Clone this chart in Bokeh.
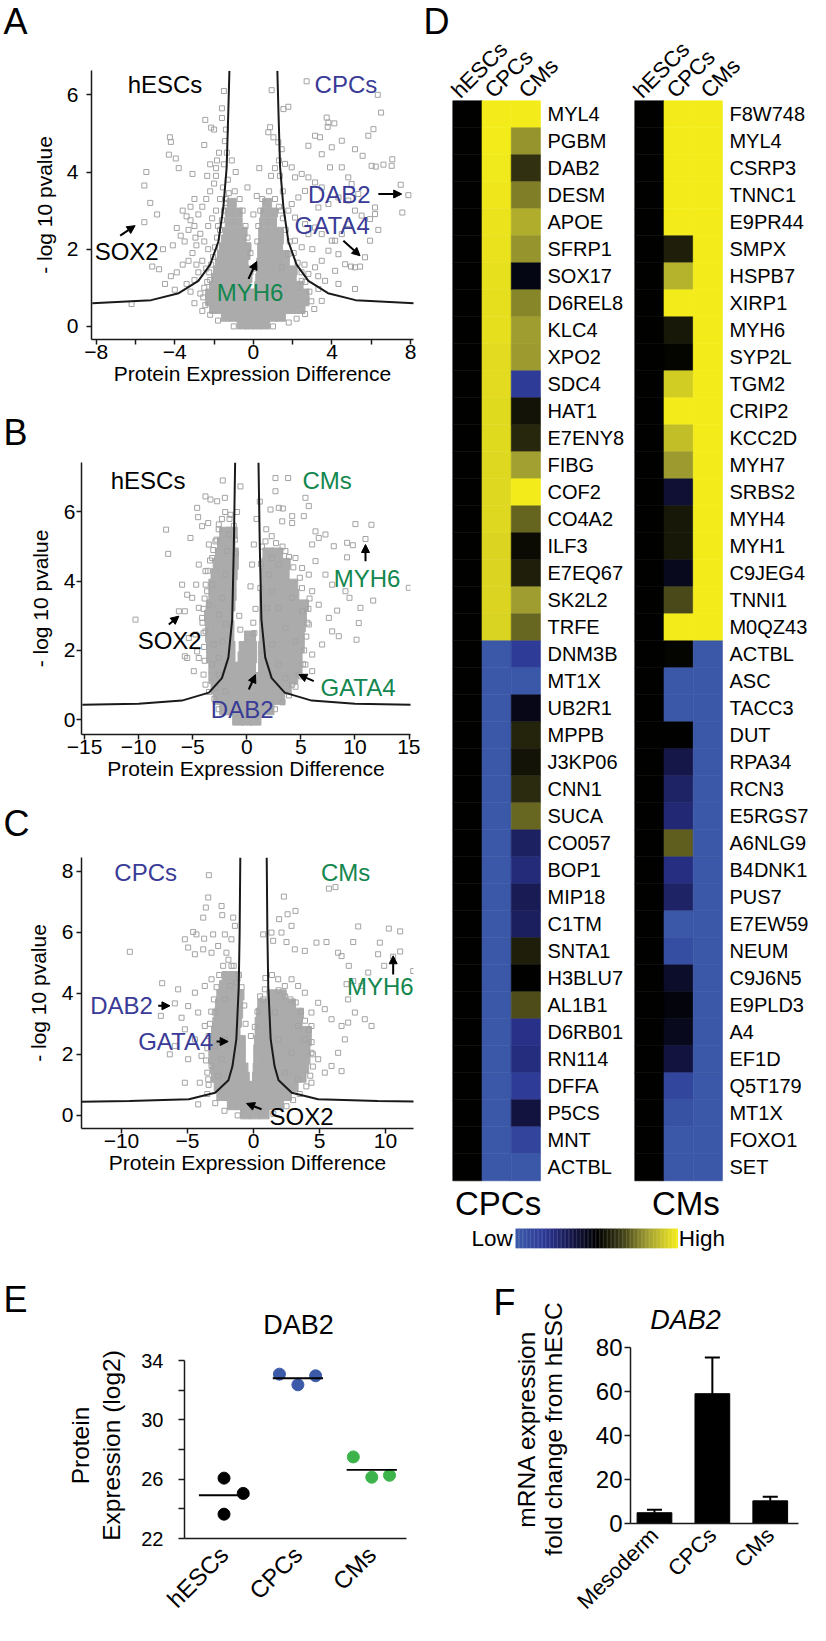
import math
from bokeh.plotting import figure
from bokeh.models import Range1d, FixedTicker, Label, Arrow, NormalHead, ColumnDataSource, LinearColorMapper
from bokeh.layouts import row, column
from bokeh.embed import file_html
from bokeh.resources import INLINE
from bokeh.core.properties import value

FONT = "Liberation Sans"
TXT = {"k": "#000000", "b": "#393b96", "g": "#13874e"}
PT_GRAY = "#a3a3a3"
CORE_GRAY = "#ababab"

# ---------------- Panel A : hESCs vs CPCs ----------------
A_points = [
    (-6.2, 0.58), (-5.45, 4.0), (-5.55, 3.65), (-5.25, 3.2), (-5.55, 2.7), (-4.9, 2.9), (-5.15, 1.55), (-4.8, 1.48),
    (-4.3, 4.45), (-4.25, 4.9), (-4.2, 4.78), (-3.95, 4.35), (-3.8, 4.1), (-3.1, 3.95), (-2.5, 4.7), (-2.45, 5.35),
    (-2.15, 5.15), (-2.0, 5.1), (-1.6, 5.4), (-1.5, 6.1), (-1.6, 5.65), (-1.75, 4.5), (-1.85, 4.3), (-1.9, 4.1),
    (-3.6, 3.0), (-3.4, 2.85), (-3.2, 2.75), (-3.9, 2.55), (-3.7, 2.35), (-3.5, 2.2), (-3.3, 2.5), (-3.0, 2.6),
    (-2.8, 2.9), (-2.6, 3.1), (-2.4, 3.3), (-2.2, 3.5), (-2.0, 3.7), (-1.9, 3.9), (-2.7, 2.4), (-2.5, 2.2),
    (-2.3, 2.0), (-2.9, 2.1), (-3.1, 1.9), (-3.3, 1.7), (-3.6, 1.6), (-3.9, 1.4), (-4.2, 1.3), (-2.6, 1.7),
    (-2.4, 1.5), (-2.8, 1.4), (-3.0, 1.2), (-3.4, 1.1), (-2.2, 1.2), (-2.5, 1.0), (-4.5, 1.1), (-4.0, 0.95),
    (-3.2, 0.9), (-2.7, 0.85), (-4.6, 2.0), (-4.1, 2.1), (-1.8, 2.6), (-1.9, 3.0), (-2.1, 2.8), (-1.7, 3.3),
    (-2.3, 2.6), (-3.0, 3.3), (-3.2, 3.1), (-2.2, 4.2), (-2.35, 3.9), (-1.45, 4.8), (-1.4, 5.1), (-1.35, 4.5),
    (-1.5, 4.2), (-1.3, 3.8), (-1.55, 3.6), (-1.4, 3.3), (-2.6, 0.4), (-3.0, 0.6),
    (2.71, 6.35), (0.93, 6.12), (1.53, 5.63), (1.78, 5.69), (0.85, 5.16), (0.76, 5.03), (1.02, 4.9), (1.27, 4.77),
    (1.44, 4.59), (3.73, 5.41), (3.82, 5.28), (4.12, 5.26), (3.78, 5.17), (3.14, 4.94), (3.39, 4.9), (2.8, 4.68),
    (3.99, 4.64), (4.5, 4.81), (5.17, 4.59), (5.56, 4.42), (6.11, 5.11), (6.5, 5.54), (6.33, 6.0), (5.85, 4.94),
    (6.02, 4.16), (6.23, 4.14), (6.62, 4.19), (7.07, 4.33), (7.04, 4.16), (7.5, 3.67), (7.89, 3.4), (7.58, 2.95),
    (6.36, 2.5), (5.94, 2.22), (5.68, 1.79), (5.43, 1.55), (5.17, 1.53), (4.97, 1.55), (6.19, 3.08), (6.19, 2.91),
    (5.94, 2.78), (5.51, 2.87), (5.17, 3.0), (4.83, 2.65), (4.5, 2.39), (4.16, 2.22), (3.82, 1.96), (3.48, 1.7),
    (3.14, 1.53), (2.8, 1.36), (2.46, 1.18), (2.12, 3.86), (2.46, 3.95), (2.8, 3.86), (3.14, 3.73), (3.48, 3.6),
    (2.63, 3.51), (2.29, 3.34), (1.95, 3.17), (1.78, 3.0), (2.12, 2.82), (2.63, 2.65), (3.14, 2.56), (3.48, 2.39),
    (3.99, 2.22), (4.33, 1.87), (4.67, 1.61), (4.16, 1.44), (3.65, 1.18), (3.31, 0.97), (4.33, 1.1), (5.17, 0.97),
    (1.78, 1.87), (2.12, 2.22), (2.46, 2.05), (2.8, 2.39), (1.44, 1.53), (1.61, 4.21), (1.95, 4.12), (3.48, 4.46),
    (3.9, 4.12), (4.5, 4.12), (4.83, 3.86), (4.33, 3.34), (3.82, 3.17), (3.31, 3.08), (4.83, 3.26), (5.34, 3.43),
    (5.0, 3.69), (1.3, 4.3), (1.35, 3.9), (1.5, 3.5), (1.4, 3.0), (0.17, 3.38), (0.3, 4.1), (-0.3, 3.6),
    (0.0, 2.9), (3.48, 0.66), (2.63, 0.32),
    (-2.45, 0.55), (-2.55, 0.75), (-2.35, 1.15), (-2.25, 1.4), (-2.15, 1.6), (-2.05, 1.8), (-1.95, 2.05),
    (-1.85, 2.3), (-1.7, 2.5), (-1.6, 2.75), (-1.5, 3.0), (-1.4, 3.2), (-1.25, 3.45), (-0.95, 3.5), (-0.7, 3.3),
    (-0.55, 3.0), (-0.4, 2.6), (-0.3, 2.3), (-0.15, 1.9), (0.1, 1.5), (0.2, 2.2), (0.25, 2.6), (0.35, 3.0),
    (0.45, 3.3), (0.8, 3.5), (1.1, 3.3), (1.3, 3.1), (1.5, 2.8), (1.65, 2.5), (1.85, 2.2), (2.05, 1.9),
    (2.25, 1.65), (2.45, 1.4), (2.65, 1.15), (2.85, 0.9), (2.95, 0.65), (3.1, 0.45), (2.2, 0.2), (1.8, 0.1),
    (-1.8, 0.15), (-2.2, 0.3), (-1.0, 0.0), (1.0, 0.0), (-0.9, 4.0), (-1.1, 4.3), (0.9, 3.9), (1.1, 4.1),
    (-2.9, 1.6), (-2.95, 2.3), (3.0, 2.0), (3.3, 1.3), (2.6, 1.6),
]
A_core = [
    (0.05, [-0.6, -0.2, 0.2, 0.6]),
    (0.25, [-1.4, -1.0, -0.6, -0.2, 0.2, 0.6, 1.0, 1.4]),
    (0.45, [-2.0, -1.6, -1.2, -0.8, -0.4, 0.0, 0.4, 0.8, 1.2, 1.6, 2.0, 2.4]),
    (0.65, [-2.2, -1.8, -1.4, -1.0, -0.6, -0.2, 0.2, 0.6, 1.0, 1.4, 1.8, 2.2, 2.6]),
    (0.85, [-2.2, -1.8, -1.4, -1.0, -0.6, -0.2, 0.2, 0.6, 1.0, 1.4, 1.8, 2.2, 2.6]),
    (1.05, [-2.0, -1.6, -1.2, -0.8, -0.4, 0.3, 0.7, 1.1, 1.5, 1.9, 2.3]),
    (1.25, [-1.9, -1.5, -1.1, -0.7, -0.3, 0.35, 0.75, 1.15, 1.55, 1.95]),
    (1.45, [-1.8, -1.4, -1.0, -0.6, -0.25, 0.4, 0.8, 1.2, 1.6, 2.0]),
    (1.65, [-1.7, -1.3, -0.9, -0.5, 0.4, 0.8, 1.2, 1.6]),
    (1.85, [-1.6, -1.2, -0.8, -0.4, 0.45, 0.85, 1.25, 1.6]),
    (2.05, [-1.5, -1.1, -0.7, -0.35, 0.45, 0.85, 1.25]),
    (2.25, [-1.4, -1.0, -0.6, 0.5, 0.9, 1.3]),
    (2.45, [-1.3, -0.9, -0.55, 0.5, 0.9, 1.3]),
    (2.7, [-1.2, -0.8, 0.55, 0.95]),
    (2.95, [-1.2, -0.8, 0.6, 1.0]),
    (3.2, [-1.1, 0.7]),
]
A_curve_x = [1.22, 1.28, 1.36, 1.53, 1.78, 2.2, 2.8, 3.8, 5.2, 8.2]
A_curve_y = [6.62, 5.5, 4.12, 3.08, 2.2, 1.6, 1.18, 0.86, 0.68, 0.6]
A_notes = [("hESCs", -4.5, 6.27, "k"), ("CPCs", 4.71, 6.27, "b"), ("DAB2", 4.37, 3.41, "b"),
           ("GATA4", 4.01, 2.61, "b"), ("SOX2", -6.45, 1.94, "k"), ("MYH6", -0.17, 0.88, "g")]
A_arrows = [(-6.78, 2.35, -6.02, 2.61), (-0.25, 1.23, 0.17, 1.68), (6.36, 3.43, 7.55, 3.43), (4.58, 2.22, 5.43, 1.83)]

# ---------------- Panel B : hESCs vs CMs ----------------
B_points = [
    (-10.29, 2.89), (-7.46, 5.49), (-7.27, 4.79), (-6.28, 3.13), (-5.73, 3.13), (-5.98, 3.9), (-5.51, 3.61),
    (-5.73, 1.83), (-5.51, 1.78), (-4.9, 1.4), (-5.21, 5.25), (-4.59, 6.12), (-4.5, 5.85), (-3.82, 6.45),
    (-3.36, 6.36), (-2.74, 6.31), (-2.22, 6.91), (-2.03, 6.41), (-4.13, 5.59), (-3.57, 5.68), (-4.68, 3.9),
    (-5.05, 3.52), (-4.44, 3.23), (-5.36, 2.36), (-4.59, 1.97), (-3.82, 2.55), (-4.13, 2.94), (-3.51, 3.32),
    (-3.2, 3.9), (-3.82, 4.29), (-3.2, 4.67), (-2.9, 5.15), (-2.59, 5.64), (-3.51, 5.06), (-4.44, 4.48),
    (-3.05, 2.17), (-3.2, 1.59), (-2.59, 1.3), (-3.82, 1.01), (-2.9, 0.92), (-1.97, 0.82), (-4.44, 1.78),
    (-2.59, 3.03), (-2.28, 3.52), (-1.97, 4.19), (-1.82, 4.87), (-1.66, 5.35), (-1.51, 5.92), (-4.74, 2.46),
    (-2.59, 1.78), (-2.28, 2.26), (-1.91, 2.75), (-3.67, 3.71), (-0.59, 6.74),
    (2.65, 6.98), (3.82, 6.98), (2.65, 6.6), (2.19, 6.07), (2.96, 6.12), (3.33, 6.1), (4.19, 5.88), (5.42, 6.41),
    (5.73, 6.17), (3.27, 5.73), (4.19, 5.68), (5.27, 5.88), (6.04, 5.06), (6.65, 5.25), (7.27, 5.35), (8.04, 5.01),
    (9.27, 5.11), (9.8, 5.04), (10.04, 5.65), (11.52, 5.63), (10.97, 5.22), (9.27, 4.69), (14.97, 3.81),
    (11.68, 3.44), (10.5, 3.23), (10.35, 2.79), (10.14, 2.31), (8.5, 2.41), (8.35, 3.15), (9.49, 3.52),
    (9.12, 3.71), (7.89, 3.9), (7.27, 4.19), (6.35, 4.58), (5.73, 4.19), (5.11, 4.38), (4.5, 4.67), (3.57, 4.87),
    (2.96, 4.48), (2.34, 4.67), (6.04, 3.71), (6.65, 3.32), (7.58, 2.94), (7.89, 2.55), (6.96, 2.17), (6.04, 1.88),
    (5.42, 1.59), (4.81, 1.3), (4.19, 1.01), (6.04, 1.4), (4.5, 2.26), (3.57, 2.65), (2.96, 3.23), (4.19, 3.52),
    (5.11, 3.13), (5.73, 2.75), (2.34, 3.71), (1.73, 5.15), (2.03, 4.19), (1.88, 3.23), (2.34, 2.17), (2.96, 1.59),
    (3.57, 1.2), (6.35, 5.44), (0.65, 5.06), (0.49, 4.48), (0.34, 3.85),
    (-4.0, 1.3), (-3.9, 1.7), (-3.95, 2.1), (-4.0, 2.5), (-4.1, 2.8), (-4.0, 3.2), (-3.9, 3.5), (-3.8, 3.9),
    (-3.6, 4.3), (-3.4, 4.6), (-3.1, 4.9), (-2.8, 5.2), (-2.6, 5.5), (-2.3, 5.8), (-2.0, 6.0), (-1.6, 5.8),
    (-1.2, 5.6), (-1.1, 5.2), (-1.0, 4.8), (-3.5, 0.8), (-3.0, 0.6), (-2.6, 0.3), (2.6, 0.3), (3.3, 0.5),
    (3.9, 0.7), (4.5, 0.95), (5.0, 1.25), (5.2, 1.6), (5.3, 2.0), (5.5, 2.4), (5.6, 2.8), (5.7, 3.2),
    (5.8, 3.5), (5.1, 3.8), (4.9, 4.1), (4.3, 4.4), (3.9, 4.7), (3.3, 5.0), (2.7, 5.1), (2.3, 5.3),
    (1.8, 5.5), (1.4, 5.0), (1.3, 4.5), (1.25, 3.8), (0.8, 3.2), (0.6, 2.8), (0.7, 2.5), (-0.6, 2.6),
    (-0.7, 3.0), (0.9, 5.8), (1.2, 6.3), (-0.9, 6.0),
]
B_core = [
    (0.0, [-0.8, 0.0, 0.8]),
    (0.3, [-2.0, -1.2, -0.4, 0.4, 1.2, 2.0]),
    (0.6, [-2.6, -1.8, -1.0, -0.2, 0.6, 1.4, 2.2, 3.0]),
    (0.9, [-2.8, -2.0, -1.2, -0.4, 0.4, 1.2, 2.0, 2.8, 3.6]),
    (1.2, [-3.0, -2.2, -1.4, -0.5, 0.3, 1.0, 1.8, 2.6, 3.4, 4.2]),
    (1.5, [-3.0, -2.2, -1.4, -0.4, 0.3, 1.6, 2.4, 3.2, 4.0, 4.6]),
    (1.8, [-3.2, -2.4, -1.6, -0.3, 0.4, 1.6, 2.4, 3.2, 4.0, 4.6]),
    (2.1, [-3.2, -2.4, -1.6, -0.2, 0.4, 1.6, 2.4, 3.2, 4.0, 4.8]),
    (2.4, [-3.3, -2.5, -1.7, 0.3, 1.7, 2.5, 3.3, 4.1, 4.8]),
    (2.7, [-3.3, -2.5, -1.7, 1.7, 2.5, 3.3, 4.1, 4.9]),
    (3.0, [-3.4, -2.6, -1.8, 1.7, 2.5, 3.3, 4.1, 5.0]),
    (3.3, [-3.2, -2.4, -1.6, 1.7, 2.5, 3.3, 4.2, 5.2]),
    (3.6, [-3.0, -2.3, -1.5, 1.7, 2.5, 3.4, 4.3]),
    (3.9, [-3.0, -2.2, -1.5, 1.8, 2.6, 3.4, 4.2]),
    (4.2, [-2.8, -2.0, -1.4, 1.8, 2.6, 3.4]),
    (4.5, [-2.6, -1.9, -1.3, 1.9, 2.7, 3.5]),
    (4.8, [-2.4, -1.7, -1.3, 2.0, 2.8]),
    (5.1, [-2.2, -1.6]),
    (5.4, [-2.0, -1.4]),
]
B_curve_x = [1.08, 1.2, 1.35, 1.7, 2.3, 3.5, 6.0, 10.0, 15.2]
B_curve_y = [7.43, 5.0, 2.9, 1.8, 1.2, 0.78, 0.55, 0.46, 0.43]
B_notes = [("hESCs", -9.13, 6.91, "k"), ("CMs", 7.42, 6.91, "g"), ("MYH6", 11.12, 4.07, "g"),
           ("SOX2", -7.13, 2.29, "k"), ("GATA4", 10.28, 0.92, "g"), ("DAB2", -0.43, 0.29, "b")]
B_arrows = [(10.97, 4.58, 10.97, 5.06), (-7.21, 2.75, -6.28, 2.99), (6.19, 1.11, 4.81, 1.3), (0.18, 0.87, 0.8, 1.3)]

# ---------------- Panel C : CPCs vs CMs ----------------
C_points = [
    (-9.37, 5.36), (-6.92, 4.33), (-7.02, 3.26), (-5.96, 3.67), (-5.71, 4.13), (-5.96, 2.27), (-6.34, 2.0),
    (-5.2, 2.82), (-5.45, 3.2), (-4.95, 1.84), (-4.07, 1.07), (-5.2, 1.07), (-4.19, 0.36), (-3.38, 7.87),
    (-3.43, 7.14), (-3.61, 6.81), (-3.74, 5.79), (-2.42, 6.86), (-2.37, 6.56), (-1.54, 6.48), (-2.17, 5.93),
    (-3.06, 5.93), (-4.57, 6.01), (-4.32, 5.93), (-5.2, 5.77), (-4.95, 5.5), (-4.44, 5.28), (-3.81, 5.44),
    (-3.18, 5.33), (-2.68, 5.55), (-2.05, 5.33), (-1.67, 5.77), (-1.41, 6.21), (-3.81, 6.48), (-3.18, 4.46),
    (-3.69, 4.24), (-4.44, 4.02), (-4.95, 3.58), (-4.19, 3.37), (-3.69, 2.93), (-4.44, 2.49), (-3.94, 1.95),
    (-3.18, 1.62), (-2.68, 1.29), (-3.43, 1.18), (-2.42, 1.84), (-2.93, 2.27), (-2.17, 2.49), (-2.93, 3.37),
    (-2.17, 3.8), (-1.79, 4.24), (-1.67, 4.9), (-1.29, 4.35),
    (2.3, 7.17), (5.71, 7.43), (6.21, 7.48), (3.18, 6.7), (2.58, 6.59), (1.94, 6.43), (2.88, 6.21), (2.12, 5.99),
    (1.49, 5.72), (0.73, 5.93), (1.36, 5.99), (2.5, 5.68), (3.13, 5.44), (3.89, 5.39), (4.77, 5.66), (5.53, 5.68),
    (6.41, 5.33), (6.67, 5.22), (7.22, 4.9), (7.55, 5.68), (7.93, 6.19), (9.57, 5.66), (10.25, 6.12), (11.11, 6.03),
    (11.11, 5.37), (10.58, 5.2), (9.9, 4.9), (9.44, 5.28), (8.69, 4.68), (8.18, 4.24), (7.55, 4.4), (7.05, 4.3),
    (7.17, 3.8), (7.68, 3.37), (7.17, 3.04), (6.67, 2.93), (5.91, 3.15), (5.4, 3.48), (4.9, 3.69), (4.39, 3.37),
    (3.89, 4.02), (3.38, 4.24), (2.88, 4.46), (2.37, 4.24), (1.87, 4.46), (0.86, 4.13), (0.73, 3.8), (8.94, 2.93),
    (8.43, 3.15), (6.92, 2.49), (6.41, 2.05), (5.91, 1.62), (5.4, 1.4), (4.9, 1.84), (4.39, 2.05), (3.89, 2.49),
    (4.39, 2.93), (3.38, 2.93), (2.88, 2.05), (2.37, 1.4), (3.38, 1.18), (4.39, 1.07), (6.67, 1.45), (1.87, 2.49),
    (1.62, 3.37), (12.1, 4.73),
    (-3.5, 0.7), (-3.4, 1.0), (-3.5, 1.4), (-3.6, 1.8), (-3.5, 2.2), (-3.4, 2.6), (-3.3, 3.0), (-3.2, 3.4),
    (-3.0, 3.8), (-2.8, 4.2), (-2.6, 4.6), (-2.3, 4.9), (-1.9, 5.1), (-1.5, 4.9), (-1.1, 4.6), (-0.9, 4.2),
    (-0.7, 3.6), (-0.6, 3.0), (-0.2, 2.6), (0.1, 2.9), (0.3, 3.4), (0.5, 3.9), (0.9, 4.5), (1.4, 4.6),
    (1.9, 4.1), (2.4, 3.9), (2.8, 3.8), (3.2, 3.7), (3.6, 3.4), (3.9, 3.1), (4.2, 2.8), (4.4, 2.4),
    (4.5, 2.0), (4.5, 1.6), (4.3, 1.3), (4.0, 0.95), (3.5, 0.7), (3.0, 0.5), (2.5, 0.3), (-2.9, 0.4),
    (-2.2, 0.15), (1.5, 0.05), (-1.2, 0.0),
]
C_core = [
    (0.05, [-0.6, 0.1, 0.8]),
    (0.35, [-1.6, -0.9, -0.2, 0.5, 1.2, 1.9]),
    (0.65, [-2.4, -1.7, -1.0, -0.3, 0.4, 1.1, 1.8, 2.5]),
    (0.95, [-2.6, -1.9, -1.2, -0.5, 0.2, 0.9, 1.6, 2.3, 3.0]),
    (1.25, [-2.8, -2.1, -1.4, -0.7, 0.3, 0.9, 1.6, 2.3, 3.0, 3.6]),
    (1.55, [-2.9, -2.2, -1.5, -0.8, 0.35, 1.0, 1.7, 2.4, 3.1, 3.8]),
    (1.85, [-3.0, -2.3, -1.6, -1.0, 0.4, 1.1, 1.8, 2.5, 3.2, 3.9]),
    (2.15, [-3.0, -2.3, -1.6, -1.0, 0.4, 1.1, 1.8, 2.5, 3.2, 3.9]),
    (2.45, [-2.9, -2.2, -1.5, -1.0, 0.45, 1.15, 1.85, 2.55, 3.25, 4.0]),
    (2.75, [-2.8, -2.1, -1.4, 0.5, 1.2, 1.9, 2.6, 3.3, 4.0]),
    (3.05, [-2.7, -2.0, -1.3, 0.5, 1.2, 1.9, 2.6, 3.3]),
    (3.35, [-2.6, -1.9, -1.2, 0.6, 1.3, 2.0, 2.7, 3.4]),
    (3.65, [-2.5, -1.8, -1.2, 0.7, 1.4, 2.1, 2.8]),
    (3.95, [-2.4, -1.7, -1.1, 1.4, 2.1]),
    (4.25, [-2.2, -1.5]),
    (4.55, [-2.0, -1.4]),
]
C_curve_x = [1.0, 1.05, 1.12, 1.3, 1.6, 1.9, 2.9, 4.9, 9.4, 13.1]
C_curve_y = [8.45, 6.0, 4.2, 2.5, 1.6, 1.15, 0.74, 0.53, 0.47, 0.45]
C_notes = [("CPCs", -8.17, 7.96, "b"), ("CMs", 6.98, 7.96, "g"), ("DAB2", -10.0, 3.59, "b"),
           ("GATA4", -5.89, 2.41, "b"), ("MYH6", 9.6, 4.22, "g"), ("SOX2", 3.64, -0.04, "k")]
C_arrows = [(-7.22, 3.59, -6.33, 3.59), (-2.8, 2.42, -1.92, 2.42), (10.58, 4.62, 10.58, 5.23), (0.61, 0.2, -0.53, 0.39)]

# ---------------- Panel D : heatmaps ----------------
D_columns = ["hESCs", "CPCs", "CMs"]
D_left_genes = ["MYL4", "PGBM", "DAB2", "DESM", "APOE", "SFRP1", "SOX17", "D6REL8", "KLC4", "XPO2",
                "SDC4", "HAT1", "E7ENY8", "FIBG", "COF2", "CO4A2", "ILF3", "E7EQ67", "SK2L2", "TRFE",
                "DNM3B", "MT1X", "UB2R1", "MPPB", "J3KP06", "CNN1", "SUCA", "CO057", "BOP1", "MIP18",
                "C1TM", "SNTA1", "H3BLU7", "AL1B1", "D6RB01", "RN114", "DFFA", "P5CS", "MNT", "ACTBL"]
D_left_hESCs = [0.0, 0.0, 0.0, 0.0, 0.0, 0.0, 0.0, 0.0, 0.0, 0.0, 0.0, 0.0, 0.0, 0.0, 0.0, 0.0, 0.0, 0.0, 0.0, 0.0,
                0.0, 0.0, 0.0, 0.0, 0.0, 0.0, 0.0, 0.0, 0.0, 0.0, 0.0, 0.0, 0.0, 0.0, 0.0, 0.0, 0.0, 0.0, 0.0, 0.0]
D_left_CPCs = [1.0, 1.0, 0.98, 0.97, 0.96, 0.95, 0.94, 0.93, 0.93, 0.92, 0.92, 0.91, 0.91, 0.9, 0.9, 0.9, 0.89, 0.89, 0.89, 0.88,
               -0.98, -0.98, -0.98, -0.98, -0.98, -0.98, -0.98, -0.98, -0.98, -0.98,
               -0.98, -0.98, -0.98, -0.98, -0.98, -0.98, -0.98, -0.98, -0.98, -0.98]
D_left_CMs = [1.0, 0.6, 0.25, 0.53, 0.7, 0.6, -0.08, 0.55, 0.63, 0.62, -0.68, 0.1, 0.2, 0.64, 1.0, 0.44, 0.06, 0.15, 0.63, 0.45,
              -0.7, -0.97, -0.1, 0.18, 0.1, 0.22, 0.45, -0.42, -0.52, -0.36, -0.4, 0.15, 0.0, 0.36, -0.58, -0.54, -0.68, -0.28, -0.78, -0.98]
D_right_genes = ["F8W748", "MYL4", "CSRP3", "TNNC1", "E9PR44", "SMPX", "HSPB7", "XIRP1", "MYH6", "SYP2L",
                 "TGM2", "CRIP2", "KCC2D", "MYH7", "SRBS2", "MYH4", "MYH1", "C9JEG4", "TNNI1", "M0QZ43",
                 "ACTBL", "ASC", "TACC3", "DUT", "RPA34", "RCN3", "E5RGS7", "A6NLG9", "B4DNK1", "PUS7",
                 "E7EW59", "NEUM", "C9J6N5", "E9PLD3", "A4", "EF1D", "Q5T179", "MT1X", "FOXO1", "SET"]
D_right_hESCs = [0.0, 0.0, 0.0, 0.0, 0.0, 0.0, 0.0, 0.0, 0.0, 0.0, 0.0, 0.0, 0.0, 0.0, 0.0, 0.0, 0.0, 0.0, 0.0, 0.0,
                 0.0, 0.0, 0.0, 0.0, 0.0, 0.0, 0.0, 0.0, 0.0, 0.0, 0.0, 0.0, 0.0, 0.0, 0.0, 0.0, 0.0, 0.0, 0.0, 0.0]
D_right_CPCs = [1.0, 1.0, 1.0, 1.0, 1.0, 0.15, 0.72, 1.0, 0.12, 0.02, 0.85, 1.0, 0.78, 0.62, -0.22, 0.12, 0.12, -0.12, 0.35, 1.0,
                0.02, -0.98, -0.98, 0.0, -0.32, -0.44, -0.5, 0.42, -0.56, -0.44,
                -0.97, -0.88, -0.18, -0.05, -0.12, -0.28, -0.8, -0.9, -0.97, -0.97]
D_right_CMs = [1.0, 1.0, 1.0, 1.0, 1.0, 1.0, 1.0, 1.0, 1.0, 1.0, 1.0, 1.0, 1.0, 1.0, 1.0, 1.0, 1.0, 1.0, 1.0, 1.0,
               -0.98, -0.98, -0.98, -0.98, -0.98, -0.98, -0.98, -0.98, -0.98, -0.98,
               -0.98, -0.98, -0.98, -0.98, -0.98, -0.98, -0.98, -0.98, -0.98, -0.98]
D_panel_names = ["CPCs", "CMs"]

# ---------------- Panel E ----------------
E_groups = ["hESCs", "CPCs", "CMs"]
E_values = [[26.07, 25.04, 23.64], [33.08, 32.36, 32.97], [27.5, 26.13, 26.26]]
E_jitter = [[0.0, 0.26, 0.0], [-0.25, 0.0, 0.24], [-0.25, 0.0, 0.24]]
E_colors = ["#000000", "#3b5aa8", "#3cb44b"]

# ---------------- Panel F ----------------
F_groups = ["Mesoderm", "CPCs", "CMs"]
F_mean = [4.9, 59.0, 10.3]
F_err = [1.3, 16.4, 1.9]


# ================= helpers =================
def base_fig(W, H, bl, br, bt, bb, xr, yr):
    p = figure(width=W, height=H, x_range=Range1d(*xr), y_range=Range1d(*yr),
               output_backend="svg", toolbar_location=None, frame_align=False,
               min_border_left=bl, min_border_right=br, min_border_top=bt, min_border_bottom=bb)
    p.outline_line_color = None
    p.xgrid.visible = False
    p.ygrid.visible = False
    p.background_fill_color = "white"
    p.border_fill_color = "white"
    return p


def text_fig(W, H):
    # pure text panel: its frame covers the whole canvas, 1 unit = 1 pixel, y grows downward
    p = figure(width=W, height=H, x_range=Range1d(0, W), y_range=Range1d(H, 0),
               output_backend="svg", toolbar_location=None, frame_align=False,
               x_axis_location=None, y_axis_location=None,
               min_border_left=0, min_border_right=0, min_border_top=0, min_border_bottom=0)
    p.outline_line_color = None
    p.xgrid.visible = False
    p.ygrid.visible = False
    p.border_fill_color = "white"
    return p


def add_text(p, x, y, text, size, color="black", align="center", baseline="middle", angle=0.0, style="normal"):
    p.add_layout(Label(x=x, y=y, text=text, text_font=FONT, text_font_size=f"{size}px", text_color=color,
                       text_align=align, text_baseline=baseline, angle=angle, text_font_style=style))


def style_axis(ax, tick_px, out, std):
    ax.axis_line_color = "#1a1a1a"
    ax.axis_line_width = 1.5
    ax.major_tick_line_color = "#1a1a1a"
    ax.major_tick_line_width = 1.5
    ax.minor_tick_line_color = "#1a1a1a"
    ax.minor_tick_line_width = 1.5
    ax.major_tick_in = 0
    ax.major_tick_out = out
    ax.minor_tick_in = 0
    ax.minor_tick_out = out
    ax.major_label_text_font = FONT
    ax.major_label_text_font_size = f"{tick_px}px"
    ax.major_label_text_color = "black"
    ax.major_label_standoff = std
    ax.axis_label_text_font = FONT
    ax.axis_label_text_font_style = "normal"
    ax.axis_label_text_color = "black"


def volcano(W, H, bl, br, bt, bb, xr, yr, xmajor, xminor, ymajor, points, core, core_size,
            cxs, cys, notes, arrows, ystd, ylab_std):
    p = base_fig(W, H, bl, br, bt, bb, xr, yr)
    kx = [x for (y, xs) in core for x in xs]
    ky = [y for (y, xs) in core for x in xs]
    p.scatter(kx, ky, marker="square", size=core_size, fill_color=CORE_GRAY, line_color=CORE_GRAY)
    p.scatter([q[0] for q in points], [q[1] for q in points], marker="square", size=5,
              fill_color=None, line_color=PT_GRAY, line_width=1)
    p.line(cxs, cys, line_color="#1a1a1a", line_width=2)
    p.line([-v for v in cxs], cys, line_color="#1a1a1a", line_width=2)
    p.xaxis.ticker = FixedTicker(ticks=xmajor, minor_ticks=xminor)
    p.yaxis.ticker = FixedTicker(ticks=ymajor, minor_ticks=[])
    style_axis(p.xaxis[0], 21, 5, 0)
    style_axis(p.yaxis[0], 21, 5, ystd)
    p.xaxis.axis_label = "Protein Expression Difference"
    p.yaxis.axis_label = "- log 10 pvalue"
    p.xaxis.axis_label_text_font_size = "21px"
    p.yaxis.axis_label_text_font_size = "21px"
    p.xaxis.axis_label_standoff = 0
    p.yaxis.axis_label_standoff = ylab_std
    for (t, x, y, c) in notes:
        add_text(p, x, y, t, 24, TXT[c])
    for (x0, y0, x1, y1) in arrows:
        p.add_layout(Arrow(end=NormalHead(size=8, fill_color="black", line_color="black", line_width=1),
                           x_start=x0, y_start=y0, x_end=x1, y_end=y1, line_color="black", line_width=2))
    return p


def letter_head(H, letter, cy):
    h = text_fig(420, H)
    add_text(h, 3, cy, letter, 36, align="left")
    return h


hA = letter_head(66, "A", 21)
pA = volcano(420, 339, 91, 7, 4, 66, (-8.24, 8.15), (-0.34, 6.63), [-8, -4, 0, 4, 8], [-6, -2, 2, 6],
             [0, 2, 4, 6], A_points, A_core, 9, A_curve_x, A_curve_y, A_notes, A_arrows, 8, 8)
hB = letter_head(53, "B", 27)
pB = volcano(420, 344, 81, 10, 4, 68, (-15.28, 15.13), (-0.43, 7.43), [-15, -10, -5, 0, 5, 10, 15], [],
             [0, 2, 4, 6], B_points, B_core, 11, B_curve_x, B_curve_y, B_notes, B_arrows, 1, 9)
hC = letter_head(51, "C", 21)
pC = volcano(420, 364, 81, 7, 4, 89, (-13.03, 12.12), (-0.43, 8.45), [-10, -5, 0, 5, 10], [],
             [0, 2, 4, 6, 8], C_points, C_core, 10, C_curve_x, C_curve_y, C_notes, C_arrows, 3, 9)

# ---------------- Panel D figure ----------------
anchors = [(0.0, (59, 90, 168)), (0.18, (44, 54, 148)), (0.35, (20, 21, 69)), (0.5, (0, 0, 0)),
           (0.65, (58, 58, 21)), (0.82, (162, 160, 48)), (1.0, (244, 236, 26))]
palette = []
for i in range(256):
    t = i / 255
    for k in range(len(anchors) - 1):
        t0, c0 = anchors[k]
        t1, c1 = anchors[k + 1]
        if t0 <= t <= t1:
            f = (t - t0) / (t1 - t0)
            palette.append("#%02x%02x%02x" % tuple(int(round(a + (b - a) * f)) for a, b in zip(c0, c1)))
            break
mapper = LinearColorMapper(palette=palette, low=-1, high=1)

DW, DH = 390, 1257
pD = figure(width=DW, height=DH, x_range=Range1d(-1.605, 11.74), y_range=Range1d(42.34, -4.215),
            output_backend="svg", toolbar_location=None, frame_align=False,
            x_axis_location=None, y_axis_location=None,
            min_border_left=0, min_border_right=0, min_border_top=0, min_border_bottom=0)
pD.outline_line_color = None
pD.xgrid.visible = False
pD.ygrid.visible = False

heat_offsets = [0.0, 6.227]
heat_data = [([D_left_hESCs, D_left_CPCs, D_left_CMs], D_left_genes),
             ([D_right_hESCs, D_right_CPCs, D_right_CMs], D_right_genes)]
header_dx = [-0.42, 0.72, 1.88]
for off, (cols, genes), pname in zip(heat_offsets, heat_data, D_panel_names):
    xs, ys, vs = [], [], []
    for j, colvals in enumerate(cols):
        for r, v in enumerate(colvals):
            xs.append(off + j)
            ys.append(r)
            vs.append(v)
    src = ColumnDataSource(dict(x=xs, y=ys, v=vs))
    pD.rect("x", "y", 1.0, 1.0, source=src, fill_color={"field": "v", "transform": mapper},
            line_color={"field": "v", "transform": mapper}, line_width=0.6)
    pD.text(x=[off + 2.74] * len(genes), y=list(range(len(genes))), text=genes,
            text_font=value(FONT), text_font_size="20px", text_align="left", text_baseline="middle",
            text_color="black")
    pD.text(x=[off + d for d in header_dx], y=[-0.75] * 3, text=D_columns, angle=0.785,
            text_font=value(FONT), text_font_size="22px", text_align="left", text_baseline="alphabetic",
            text_color="black")
    add_text(pD, off + 1.05 + (0.2 if off > 0 else 0.0), 40.34, pname, 33)

nq = 120
cl, cr = 1.645, 7.197
pD.quad(left=[cl + (cr - cl) * i / nq for i in range(nq)], right=[cl + (cr - cl) * (i + 1) / nq + 0.01 for i in range(nq)],
        top=[41.27] * nq, bottom=[42.0] * nq, fill_color=[palette[int(i * 255 / (nq - 1))] for i in range(nq)],
        line_color=None)
add_text(pD, 1.55, 41.64, "Low", 22.5, align="right")
add_text(pD, 7.23, 41.64, "High", 22.5, align="left")
add_text(pD, -1.5, -3.45, "D", 36, align="left")

# ---------------- Panel E figures ----------------
hE = text_fig(420, 125)
add_text(hE, 3, 81.5, "E", 36, align="left")
add_text(hE, 298, 107, "DAB2", 27)
lE = text_fig(130, 283)
add_text(lE, 79.7, 103, "Protein", 24.5, angle=math.pi / 2)
add_text(lE, 111, 103, "Expression (log2)", 24.5, angle=math.pi / 2)

pE = base_fig(290, 283, 54, 14, 18, 81, (-0.535, 2.47), (22, 34))
for i, (vals, jit, col) in enumerate(zip(E_values, E_jitter, E_colors)):
    pE.scatter([i + j for j in jit], vals, size=12, fill_color=col, line_color=col)
    m = sum(vals) / len(vals)
    pE.segment(x0=[i - 0.34], y0=[m], x1=[i + 0.34], y1=[m], line_color="black", line_width=1.8)
pE.yaxis.ticker = FixedTicker(ticks=[22, 26, 30, 34], minor_ticks=[24, 28, 32])
pE.xaxis.ticker = FixedTicker(ticks=list(range(len(E_groups))), minor_ticks=[])
pE.xaxis.major_label_overrides = {i: g for i, g in enumerate(E_groups)}
style_axis(pE.yaxis[0], 20, 6, 15)
style_axis(pE.xaxis[0], 24, 0, 12)
pE.xaxis.major_tick_line_color = None
pE.xaxis.major_label_orientation = math.pi / 4

# ---------------- Panel F figures ----------------
lF = text_fig(150, 368)
add_text(lF, 73, 45, "F", 36, align="left")
add_text(lF, 106, 171.5, "mRNA expression", 24.5, angle=math.pi / 2)
add_text(lF, 133, 171.5, "fold change from hESC", 24.5, angle=math.pi / 2)
hF = text_fig(240, 78)
add_text(hF, 115, 62, "DAB2", 27, style="italic")

pF = base_fig(240, 290, 60, 12, 12, 96, (-0.414, 2.488), (0, 80))
idx = list(range(len(F_groups)))
pF.vbar(x=idx, top=F_mean, width=0.6, fill_color="black", line_color="black")
tops = [m + e for m, e in zip(F_mean, F_err)]
pF.segment(x0=idx, y0=F_mean, x1=idx, y1=tops, line_color="black", line_width=2)
pF.segment(x0=[i - 0.13 for i in idx], y0=tops, x1=[i + 0.13 for i in idx], y1=tops, line_color="black", line_width=2)
pF.yaxis.ticker = FixedTicker(ticks=[0, 20, 40, 60, 80], minor_ticks=[])
pF.xaxis.ticker = FixedTicker(ticks=idx, minor_ticks=[])
pF.xaxis.major_label_overrides = {i: g for i, g in enumerate(F_groups)}
style_axis(pF.yaxis[0], 24, 6, 2)
style_axis(pF.xaxis[0], 22, 0, 8)
pF.xaxis.major_tick_line_color = None
pF.xaxis.major_label_orientation = math.pi / 4

left_col = column(hA, pA, hB, pB, hC, pC, hE, row(lE, pE, spacing=0), spacing=0)
right_col = column(pD, row(lF, column(hF, pF, spacing=0), spacing=0), spacing=0)
layout = row(left_col, right_col, spacing=0)
open("out.html", "w").write(file_html(layout, INLINE, title="Proteomics figure"))
